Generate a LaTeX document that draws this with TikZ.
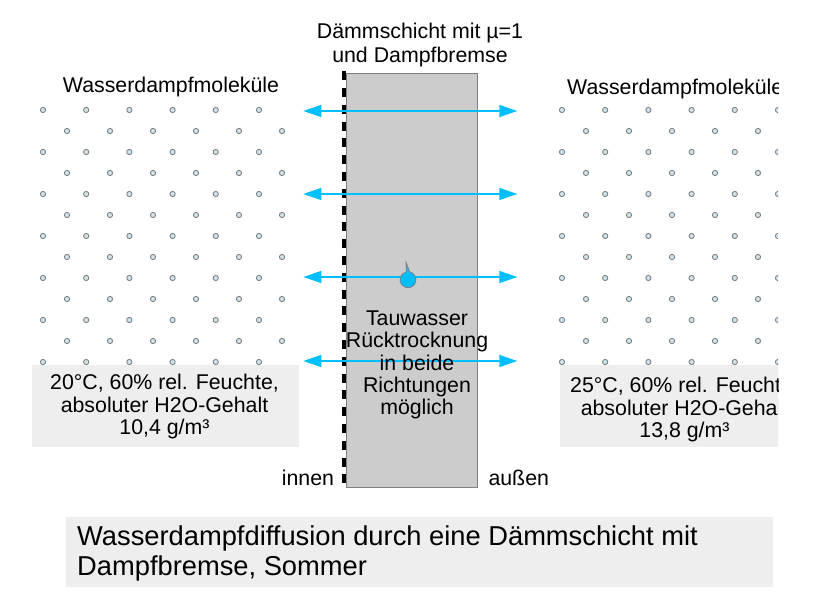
\documentclass[tikz,border=0pt]{standalone}
\usepackage{fontspec}
\setmainfont{Liberation Sans}
\usetikzlibrary{arrows.meta,calc}
\definecolor{insfill}{HTML}{CCCCCC}
\definecolor{insline}{HTML}{808080}
\definecolor{boxfill}{HTML}{EEEEEE}
\definecolor{flowc}{HTML}{00BFFF}
\definecolor{dotfill}{HTML}{CFE5F2}
\tikzset{
  lbl/.style={font=\fontsize{21.33}{22.4}\selectfont, inner sep=0pt, align=center},
  titlelbl/.style={font=\fontsize{21.33}{24.2}\selectfont, inner sep=0pt, align=center},
  caplbl/.style={font=\fontsize{27.3}{30}\selectfont, inner sep=0pt, align=left},
  infobox/.style={fill=boxfill, draw=none, anchor=north west, inner sep=0pt, outer sep=0pt},
  insul/.style={fill=insfill, draw=insline, line width=1pt, anchor=north west, inner sep=0pt, outer sep=0pt},
  dotc/.style={fill=dotfill, draw=insline, line width=0.9pt},
  dashline/.style={line width=4pt, dash pattern=on 9pt off 7.8pt},
  flow/.style={draw=flowc, line width=1.4pt, {Triangle[length=18pt,width=12pt]}-{Triangle[length=18pt,width=12pt]}},
  dropc/.style={fill=flowc, draw=insline, line width=0.8pt},
}
\begin{document}
\begin{tikzpicture}[x=1pt,y=-1pt]
\useasboundingbox (0,0) rectangle (820,609);

\begin{scope}
\clip (0,0) rectangle (778,609);
\foreach \dx in {0,519} {
  \foreach \r in {0,2,...,12} {
    \foreach \k in {0,...,5} {
      \draw[dotc] ({43+43.2*\k+\dx},{110+21*\r}) circle[radius=2.6];
    }
  }
  \foreach \r in {1,3,...,11} {
    \foreach \k in {0,...,5} {
      \draw[dotc] ({67+43*\k+\dx},{110+21*\r}) circle[radius=2.6];
    }
  }
}
\node[infobox, minimum width=267.6pt, minimum height=82pt] (boxL) at (31.7,365) {};
\node[infobox, minimum width=268pt, minimum height=82pt] (boxR) at (560,365) {};
\node[lbl, anchor=base] (txtL) at (164.5,434.5) {20°C, 60\% rel. Feuchte,\\absoluter H2O-Gehalt\\10,4 g/m³};
\node[lbl, anchor=base] (txtR) at (684.5,437.5) {25°C, 60\% rel. Feuchte,\\absoluter H2O-Gehalt\\13,8 g/m³};
\node[lbl, anchor=base] (molL) at (171,92.5) {Wasserdampfmoleküle};
\node[lbl, anchor=base west] (molR) at (567,95) {Wasserdampfmoleküle};
\end{scope}

% insulation layer
\node[insul, minimum width=131.7pt, minimum height=414pt] (ins) at (346,73.3) {};
\coordinate (dTop) at (344,71.3);
\coordinate (dBot) at (344,487);
\draw[dashline] (dTop) -- (dBot);

% title
\node[titlelbl, anchor=base] (title) at (420,62.5) {Dämmschicht mit µ=1\\und Dampfbremse};

% diffusion arrows
\foreach \i/\yy in {1/111,2/194,3/277,4/361} {
  \coordinate (aL\i) at (303.3,\yy);
  \coordinate (aR\i) at (517.3,\yy);
  \draw[flow] (aL\i) -- (aR\i);
}

% droplet
\coordinate (drop) at (408,279.7);
\coordinate (dropTip) at (406,262.3);
\draw[dropc] (dropTip) -- ($(drop)+(282:8)$) arc[start angle=282, end angle=618, radius=8] -- cycle;

% text in the layer
\node[lbl, anchor=base] (ruck) at (417,415) {Tauwasser\\Rücktrocknung\\in beide\\Richtungen\\möglich};

% side labels
\node[lbl, anchor=base west] (innen) at (281.7,485.7) {innen};
\node[lbl, anchor=base west] (aussen) at (488.3,485.7) {außen};

% caption
\node[infobox, minimum width=707pt, minimum height=70pt] (capbox) at (66,517) {};
\node[caplbl, anchor=base west] (cap) at (77,576) {Wasserdampfdiffusion durch eine Dämmschicht mit\\Dampfbremse, Sommer};
\end{tikzpicture}
\end{document}
